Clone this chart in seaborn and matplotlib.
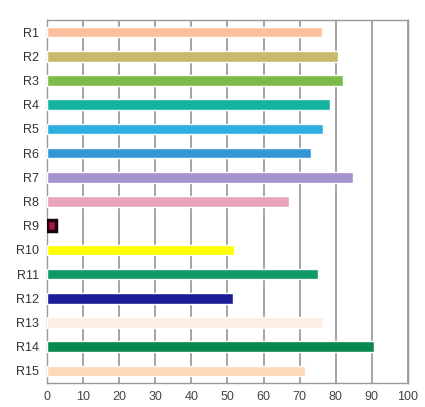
import pandas as pd
import numpy as np
import matplotlib.pyplot as plt
import seaborn as sns

regions = ['R1', 'R2', 'R3', 'R4', 'R5', 'R6', 'R7', 'R8', 'R9', 'R10',
           'R11', 'R12', 'R13', 'R14', 'R15']
values = [76.1, 80.7, 82.1, 78.3, 76.5, 73.1, 84.9, 67.2, 2.6, 51.8,
          75.2, 51.5, 76.5, 90.7, 71.5]
colors = ['#FBBF9D', '#C9B96A', '#7CBB4A', '#13B39E', '#2EAEE0', '#3496D6',
          '#A594CE', '#E8A5BC', '#B0104A', '#FFFF00', '#0E9A67', '#1C1C99',
          '#FCEEE4', '#088A4E', '#FDD9B5']
xticks = [0, 10, 20, 30, 40, 50, 60, 70, 80, 90, 100]

data = pd.DataFrame({'region': regions, 'value': values})

sns.set_style('white')
plt.rcParams['font.family'] = ['Liberation Sans', 'DejaVu Sans']

fig = plt.figure(figsize=(4.25, 4.07), dpi=100)
ax = fig.add_axes([0.1106, 0.059, 0.849, 0.892])

sns.barplot(data=data, x='value', y='region', hue='region', palette=colors,
            orient='h', width=0.44, saturation=1, legend=False, ax=ax,
            zorder=3)

# R9 bar is drawn dark with a red centre
ax.patches[8].set_edgecolor('#1a0508')
ax.patches[8].set_linewidth(2.5)

ax.set_xlim(0, 100)
ax.set_ylim(14.5, -0.5)
ax.set_xticks(xticks)
ax.set_xticklabels([str(t) for t in xticks], fontsize=9, color='#444444')
ax.tick_params(axis='y', labelsize=9, labelcolor='#333333', length=0, pad=6)
ax.tick_params(axis='x', length=3, color='#888888', pad=3)
ax.xaxis.grid(True, color='#8c8c8c', linewidth=1.1, zorder=0)
ax.set_axisbelow(True)
ax.set_xlabel('')
ax.set_ylabel('')
for s in ax.spines.values():
    s.set_color('#999999')
    s.set_linewidth(1.0)

plt.savefig('out.png', dpi=100)
